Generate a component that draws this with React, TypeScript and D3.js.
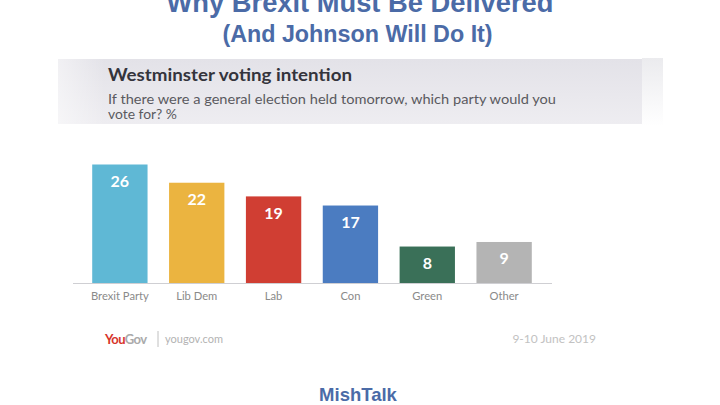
import React from "react";
import * as d3 from "d3";

const parties = ["Brexit Party", "Lib Dem", "Lab", "Con", "Green", "Other"];
const shares = [26, 22, 19, 17, 8, 9];
const colors = ["#5fb8d5", "#ebb440", "#d03e33", "#4b7cc1", "#3a7058", "#b4b4b4"];

const W = 720;
const H = 405;

export default function App() {
  const x = d3.scaleBand<string>().domain(parties).range([73, 551]).paddingInner(0.28).paddingOuter(0.25);
  const y = d3.scaleLinear().domain([0, 26]).range([283, 164.5]);
  const blue = "#4b6ba7";
  const sans = "'Liberation Sans', Arial, sans-serif";
  const soft = "Lato, 'Open Sans', sans-serif";
  return (
    <svg width={W} height={H} style={{ position: "absolute", left: 0, top: 0, background: "#fff" }}>
      <defs>
        <linearGradient id="hdr" x1="0" y1="0" x2="0" y2="1">
          <stop offset="0" stopColor="#e3e2e8" />
          <stop offset="1" stopColor="#eeedf1" />
        </linearGradient>
        <linearGradient id="hdrL" x1="0" y1="0" x2="1" y2="0">
          <stop offset="0" stopColor="#ffffff" stopOpacity={0.5} />
          <stop offset="0.08" stopColor="#ffffff" stopOpacity={0} />
        </linearGradient>
        <linearGradient id="hdrR" x1="0" y1="0" x2="0" y2="1">
          <stop offset="0" stopColor="#ebebee" />
          <stop offset="1" stopColor="#ffffff" />
        </linearGradient>
      </defs>
      <rect x={0} y={0} width={W} height={H} fill="#fff" />
      <text x={360} y={11.5} textAnchor="middle" fontFamily={sans} fontWeight="bold" fontSize={27.3} fill={blue}>
        Why Brexit Must Be Delivered
      </text>
      <text x={357.5} y={42} textAnchor="middle" fontFamily={sans} fontWeight="bold" fontSize={23.3} fill={blue}>
        (And Johnson Will Do It)
      </text>

      <rect x={642} y={58} width={21} height={68} fill="url(#hdrR)" />
      <rect x={58} y={59} width={584} height={65} fill="url(#hdr)" />
      <rect x={58} y={59} width={584} height={65} fill="url(#hdrL)" />
      <text x={108} y={81} fontFamily={soft} fontWeight="bold" fontSize={16.5} fill="#34343c" textLength={244} lengthAdjust="spacingAndGlyphs">
        Westminster voting intention
      </text>
      <text x={108} y={104} fontFamily={soft} fontSize={13.3} fill="#5a5a60" textLength={448} lengthAdjust="spacingAndGlyphs">
        If there were a general election held tomorrow, which party would you
      </text>
      <text x={108} y={119} fontFamily={soft} fontSize={13.3} fill="#5a5a60" textLength={69} lengthAdjust="spacingAndGlyphs">
        vote for? %
      </text>

      {parties.map((p, i) => (
        <g key={p}>
          <rect x={x(p)} y={y(shares[i])} width={x.bandwidth()} height={y(0) - y(shares[i])} fill={colors[i]} />
          <text
            x={(x(p) as number) + x.bandwidth() / 2}
            y={y(shares[i]) + 22.5}
            textAnchor="middle"
            fontFamily={soft}
            fontWeight="bold"
            fontSize={16}
            fill="#fff"
          >
            {shares[i]}
          </text>
          <text
            x={(x(p) as number) + x.bandwidth() / 2}
            y={300}
            textAnchor="middle"
            fontFamily={soft}
            fontSize={11.2}
            fill="#8a8a8a"
          >
            {p}
          </text>
        </g>
      ))}
      <line x1={73} x2={552} y1={283.5} y2={283.5} stroke="#cfcfd3" strokeWidth={1} />

      <text x={105} y={344} fontFamily={soft} fontWeight="bold" fontSize={13} letterSpacing={-0.6}>
        <tspan fill="#d7342b">You</tspan>
        <tspan fill="#aaaaaa">Gov</tspan>
      </text>
      <line x1={158} x2={158} y1={331} y2={347} stroke="#c0c0c0" strokeWidth={1} />
      <text x={165} y={343} fontFamily={soft} fontSize={11} fill="#b3b3b3">
        yougov.com
      </text>
      <text x={596} y={343} textAnchor="end" fontFamily={soft} fontSize={12} fill="#c2c2c2">
        9-10 June 2019
      </text>

      <text x={358} y={401} textAnchor="middle" fontFamily={sans} fontWeight="bold" fontSize={18.5} fill={blue}>
        MishTalk
      </text>
    </svg>
  );
}
